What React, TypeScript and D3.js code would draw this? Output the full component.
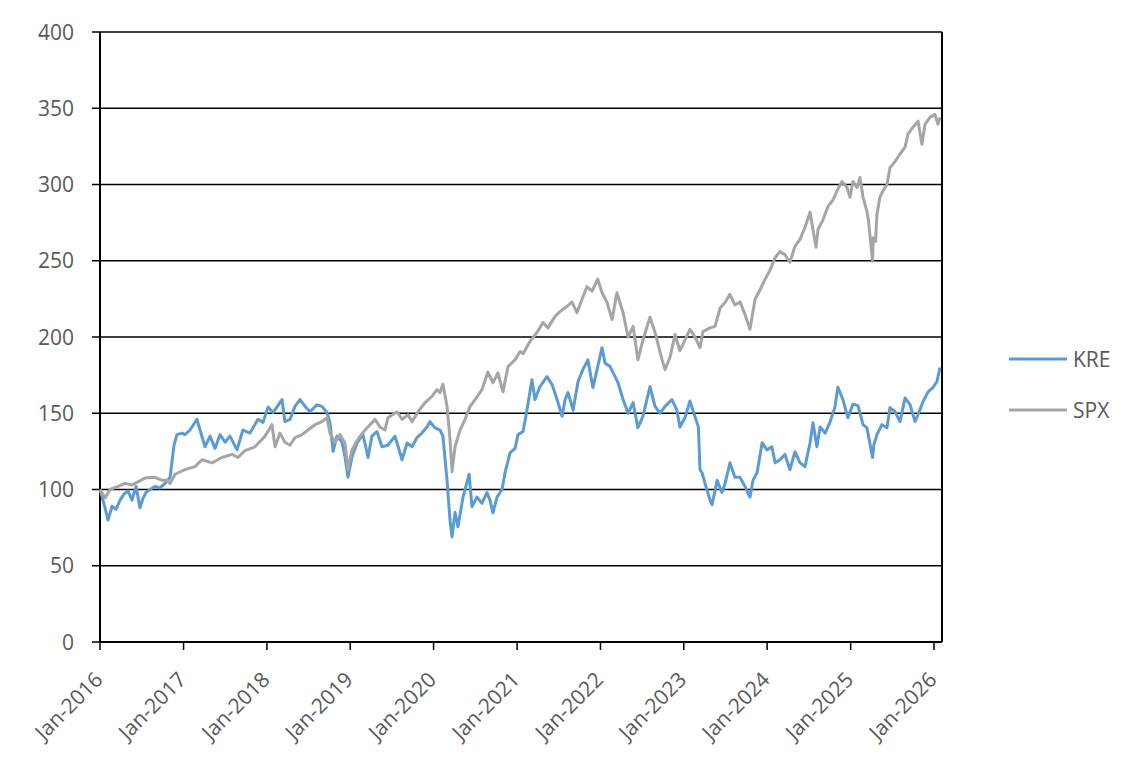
import React from "react";
import * as d3 from "d3";

const KRE: [string, number][] = [
  ["2016-01-01", 100], ["2016-01-14", 93], ["2016-01-23", 88], ["2016-02-05", 80],
  ["2016-02-23", 89], ["2016-03-11", 87], ["2016-03-29", 93], ["2016-04-15", 97],
  ["2016-05-03", 99], ["2016-05-20", 93], ["2016-06-07", 102], ["2016-06-24", 88],
  ["2016-07-07", 94], ["2016-07-20", 98], ["2016-08-07", 100], ["2016-08-29", 102],
  ["2016-09-20", 101], ["2016-10-12", 104], ["2016-11-03", 108], ["2016-11-11", 118],
  ["2016-11-20", 129], ["2016-12-03", 136], ["2016-12-25", 137], ["2017-01-07", 136],
  ["2017-01-29", 139], ["2017-03-01", 146], ["2017-03-14", 139], ["2017-04-05", 128],
  ["2017-04-27", 135], ["2017-05-19", 127], ["2017-06-10", 136], ["2017-07-02", 131],
  ["2017-07-23", 135], ["2017-08-23", 126], ["2017-09-18", 139], ["2017-10-19", 137],
  ["2017-11-23", 146], ["2017-12-15", 144], ["2018-01-06", 154], ["2018-01-28", 150.5],
  ["2018-02-14", 154], ["2018-03-08", 159], ["2018-03-21", 144.5], ["2018-04-12", 146],
  ["2018-05-04", 154.5], ["2018-05-26", 159], ["2018-06-17", 154.5], ["2018-07-09", 151],
  ["2018-08-08", 155.5], ["2018-08-30", 154.5], ["2018-09-21", 150.5], ["2018-10-04", 144],
  ["2018-10-18", 125], ["2018-11-04", 135], ["2018-11-26", 131], ["2018-12-09", 121.5],
  ["2018-12-22", 108], ["2019-01-09", 121.5], ["2019-01-31", 130.5], ["2019-02-26", 136],
  ["2019-03-20", 121], ["2019-04-06", 135], ["2019-04-28", 138], ["2019-05-20", 128],
  ["2019-06-15", 129], ["2019-07-16", 135], ["2019-08-16", 119.5], ["2019-09-07", 130.5],
  ["2019-09-29", 128], ["2019-10-20", 134], ["2019-11-11", 137], ["2019-12-03", 141],
  ["2019-12-16", 144.5], ["2020-01-07", 140.5], ["2020-01-29", 139], ["2020-02-11", 135],
  ["2020-02-29", 106], ["2020-03-13", 80], ["2020-03-22", 69], ["2020-04-04", 85],
  ["2020-04-17", 75.5], ["2020-05-09", 95], ["2020-06-05", 110], ["2020-06-17", 88.7],
  ["2020-07-09", 95], ["2020-07-31", 91], ["2020-08-22", 98], ["2020-09-04", 93],
  ["2020-09-17", 84.7], ["2020-10-05", 95], ["2020-10-27", 100], ["2020-11-09", 111],
  ["2020-12-01", 124], ["2020-12-23", 127], ["2021-01-05", 136], ["2021-01-27", 138],
  ["2021-02-13", 152], ["2021-03-07", 172], ["2021-03-20", 159], ["2021-04-11", 167.5],
  ["2021-05-12", 174], ["2021-06-03", 168.8], ["2021-06-25", 159], ["2021-07-17", 148],
  ["2021-07-30", 159], ["2021-08-12", 163.5], ["2021-09-03", 152], ["2021-09-25", 170.8],
  ["2021-10-16", 178.6], ["2021-11-07", 185], ["2021-11-29", 166.8], ["2021-12-17", 178.6],
  ["2022-01-08", 193], ["2022-01-21", 183], ["2022-02-12", 180.6], ["2022-03-06", 174],
  ["2022-03-19", 170], ["2022-04-10", 159], ["2022-05-02", 150], ["2022-05-24", 157],
  ["2022-06-14", 140.5], ["2022-07-06", 148], ["2022-08-06", 167.5], ["2022-08-28", 154.5],
  ["2022-09-19", 150], ["2022-10-11", 154.5], ["2022-11-10", 159], ["2022-12-02", 152],
  ["2022-12-15", 141], ["2023-01-06", 147], ["2023-01-28", 158], ["2023-02-10", 152],
  ["2023-03-06", 141], ["2023-03-13", 113], ["2023-03-22", 111], ["2023-04-04", 104],
  ["2023-04-26", 93], ["2023-05-05", 90], ["2023-05-27", 106], ["2023-06-17", 98],
  ["2023-07-01", 104], ["2023-07-22", 117.5], ["2023-08-13", 108], ["2023-09-04", 108],
  ["2023-09-26", 102], ["2023-10-18", 95], ["2023-10-31", 106], ["2023-11-18", 111],
  ["2023-12-10", 130.7], ["2023-12-31", 126], ["2024-01-22", 128], ["2024-02-05", 117.5],
  ["2024-02-26", 119.5], ["2024-03-19", 123], ["2024-04-10", 113], ["2024-05-02", 124.8],
  ["2024-05-24", 117.5], ["2024-06-15", 115], ["2024-07-07", 130.7], ["2024-07-20", 143.8],
  ["2024-08-06", 128], ["2024-08-20", 141], ["2024-09-11", 137], ["2024-10-02", 144],
  ["2024-10-24", 154], ["2024-11-06", 167], ["2024-11-28", 159], ["2024-12-20", 147],
  ["2025-01-11", 156], ["2025-02-02", 155], ["2025-02-24", 142.5], ["2025-03-13", 140.5],
  ["2025-04-07", 121], ["2025-04-12", 129], ["2025-04-26", 136], ["2025-05-18", 142.5],
  ["2025-06-09", 140.5], ["2025-06-22", 153.7], ["2025-07-14", 151], ["2025-08-05", 144.5],
  ["2025-08-27", 160], ["2025-09-18", 155.6], ["2025-10-10", 144.5], ["2025-10-23", 149],
  ["2025-11-14", 157.6], ["2025-12-06", 164], ["2025-12-27", 166.8], ["2026-01-14", 170.8],
  ["2026-01-27", 180],
];

const SPX: [string, number][] = [
  ["2016-01-01", 100], ["2016-01-23", 94.5], ["2016-02-14", 100], ["2016-03-20", 102],
  ["2016-04-20", 104], ["2016-05-20", 103], ["2016-06-15", 105], ["2016-07-16", 107.5],
  ["2016-08-29", 108], ["2016-09-29", 106], ["2016-10-20", 106], ["2016-11-03", 104],
  ["2016-11-25", 110], ["2017-01-07", 113], ["2017-02-20", 115], ["2017-03-23", 119.5],
  ["2017-05-06", 117.5], ["2017-06-18", 121], ["2017-08-01", 123], ["2017-08-27", 121],
  ["2017-09-27", 125.5], ["2017-11-10", 128], ["2017-12-24", 135], ["2018-01-23", 142.5],
  ["2018-02-06", 128], ["2018-02-27", 137], ["2018-03-21", 131], ["2018-04-12", 129],
  ["2018-05-04", 134], ["2018-06-04", 136], ["2018-06-30", 139], ["2018-07-31", 142.5],
  ["2018-08-30", 144.5], ["2018-09-21", 147], ["2018-10-04", 137], ["2018-10-26", 131],
  ["2018-11-17", 136], ["2018-12-09", 130.5], ["2018-12-22", 113], ["2019-01-09", 126],
  ["2019-02-04", 133], ["2019-03-07", 139], ["2019-04-20", 146], ["2019-05-11", 141],
  ["2019-06-02", 139], ["2019-06-15", 147], ["2019-07-25", 151], ["2019-08-16", 146],
  ["2019-09-11", 149], ["2019-09-29", 144.5], ["2019-10-25", 151], ["2019-11-25", 157],
  ["2019-12-25", 161], ["2020-01-16", 165.5], ["2020-01-29", 163.5], ["2020-02-11", 169],
  ["2020-02-29", 154.5], ["2020-03-13", 133], ["2020-03-22", 111.7], ["2020-04-04", 128],
  ["2020-04-26", 139], ["2020-05-18", 146], ["2020-06-09", 154.5], ["2020-07-01", 159],
  ["2020-07-31", 165.5], ["2020-08-26", 177], ["2020-09-17", 170], ["2020-10-09", 176.5],
  ["2020-10-31", 164], ["2020-11-22", 180.6], ["2020-12-23", 185], ["2021-01-14", 190.5],
  ["2021-01-27", 189], ["2021-02-26", 197], ["2021-03-29", 203], ["2021-04-24", 209.5],
  ["2021-05-16", 206], ["2021-06-16", 213.5], ["2021-07-08", 216.7], ["2021-08-07", 220],
  ["2021-08-29", 223], ["2021-09-20", 216], ["2021-10-12", 224.6], ["2021-11-03", 233],
  ["2021-11-25", 230], ["2021-12-20", 238], ["2022-01-08", 229], ["2022-01-30", 222.6],
  ["2022-02-21", 211.5], ["2022-03-14", 229], ["2022-04-10", 216], ["2022-05-02", 200],
  ["2022-05-24", 207], ["2022-06-14", 185], ["2022-07-06", 198], ["2022-08-06", 213],
  ["2022-08-28", 203], ["2022-09-28", 185], ["2022-10-11", 178.6], ["2022-11-02", 187],
  ["2022-11-24", 201.6], ["2022-12-15", 191], ["2023-01-06", 198], ["2023-01-28", 205],
  ["2023-02-19", 200], ["2023-03-13", 193], ["2023-03-26", 203.6], ["2023-04-26", 206],
  ["2023-05-18", 207], ["2023-06-09", 219], ["2023-07-01", 222.6], ["2023-07-22", 228],
  ["2023-08-13", 221], ["2023-09-04", 223], ["2023-09-26", 214.8], ["2023-10-18", 205],
  ["2023-11-09", 224.6], ["2023-12-01", 231], ["2023-12-23", 237.8], ["2024-01-14", 244],
  ["2024-02-05", 252], ["2024-02-26", 256], ["2024-03-19", 254], ["2024-04-10", 249],
  ["2024-05-02", 259.5], ["2024-05-24", 264], ["2024-06-15", 272], ["2024-07-07", 281.8],
  ["2024-08-02", 258.8], ["2024-08-11", 270.6], ["2024-09-02", 277], ["2024-09-24", 285.7],
  ["2024-10-16", 290], ["2024-11-06", 297], ["2024-11-24", 302], ["2024-12-16", 298],
  ["2024-12-29", 291.6], ["2025-01-11", 302], ["2025-01-29", 298], ["2025-02-11", 304.6],
  ["2025-02-24", 291.6], ["2025-03-13", 282.5], ["2025-03-20", 276], ["2025-04-07", 249.6],
  ["2025-04-10", 265], ["2025-04-20", 262.7], ["2025-04-26", 280.5], ["2025-05-09", 291.6],
  ["2025-05-22", 295.6], ["2025-06-09", 300], ["2025-06-22", 311], ["2025-07-14", 315],
  ["2025-08-05", 320], ["2025-08-27", 324.5], ["2025-09-09", 333], ["2025-10-01", 337.6],
  ["2025-10-23", 341.5], ["2025-11-09", 326.4], ["2025-11-23", 339.6], ["2025-12-14", 344],
  ["2026-01-05", 346], ["2026-01-18", 339.6], ["2026-01-27", 344],
];

const Y_TICKS = [0, 50, 100, 150, 200, 250, 300, 350, 400];
const X_TICK_YEARS = [2016, 2017, 2018, 2019, 2020, 2021, 2022, 2023, 2024, 2025, 2026];
const SERIES_NAMES = ["KRE", "SPX"];
const SERIES_COLORS = ["#5B9BD5", "#A5A5A5"];

export default function App() {
  const W = 1143;
  const H = 769;
  const left = 100;
  const right = 942;
  const top = 32;
  const bottom = 642;
  const parse = d3.timeParse("%Y-%m-%d");
  const x = d3
    .scaleTime()
    .domain([new Date(2016, 0, 1), new Date(2026, 1, 5)])
    .range([left, right]);
  const y = d3.scaleLinear().domain([0, 400]).range([bottom, top]);
  const line = d3
    .line<[string, number]>()
    .x((d) => x(parse(d[0]) as Date))
    .y((d) => y(d[1]));
  const fmt = d3.timeFormat("%b-%Y");
  const font = "'Open Sans', sans-serif";
  const txt = "#595959";
  const series = [KRE, SPX];

  return (
    <svg
      width={W}
      height={H}
      style={{ position: "absolute", left: 0, top: 0, background: "#fff" }}
      fontFamily={font}
    >
      <rect x={0} y={0} width={W} height={H} fill="#fff" />
      {Y_TICKS.map((t) => (
        <g key={t}>
          <line x1={left - 8} x2={right} y1={y(t)} y2={y(t)} stroke="#000" strokeWidth={1.5} />
          <text x={74} y={y(t)} dy="0.36em" textAnchor="end" fontSize={21} fill={txt}>
            {t}
          </text>
        </g>
      ))}
      <line x1={left} x2={left} y1={top} y2={bottom} stroke="#000" strokeWidth={2} />
      <line x1={right} x2={right} y1={top} y2={bottom} stroke="#000" strokeWidth={2} />
      {X_TICK_YEARS.map((yr) => {
        const d = new Date(yr, 0, 1);
        const xx = x(d);
        return (
          <g key={yr}>
            <line x1={xx} x2={xx} y1={bottom} y2={bottom + 8} stroke="#000" strokeWidth={1.5} />
            <text
              transform={`translate(${xx + 4},${bottom + 39}) rotate(-45)`}
              textAnchor="end"
              fontSize={21}
              fill={txt}
            >
              {fmt(d)}
            </text>
          </g>
        );
      })}
      {series.map((s, i) => (
        <path
          key={SERIES_NAMES[i]}
          d={line(s) || ""}
          fill="none"
          stroke={SERIES_COLORS[i]}
          strokeWidth={3}
          strokeLinejoin="round"
        />
      ))}
      <line x1={left} x2={right} y1={bottom} y2={bottom} stroke="#000" strokeWidth={2} />
      {SERIES_NAMES.map((n, i) => {
        const ly = 359 + i * 51;
        return (
          <g key={n}>
            <line x1={1009} x2={1067} y1={ly} y2={ly} stroke={SERIES_COLORS[i]} strokeWidth={3} />
            <text x={1073} y={ly} dy="0.36em" fontSize={21} fill={txt}>
              {n}
            </text>
          </g>
        );
      })}
    </svg>
  );
}
